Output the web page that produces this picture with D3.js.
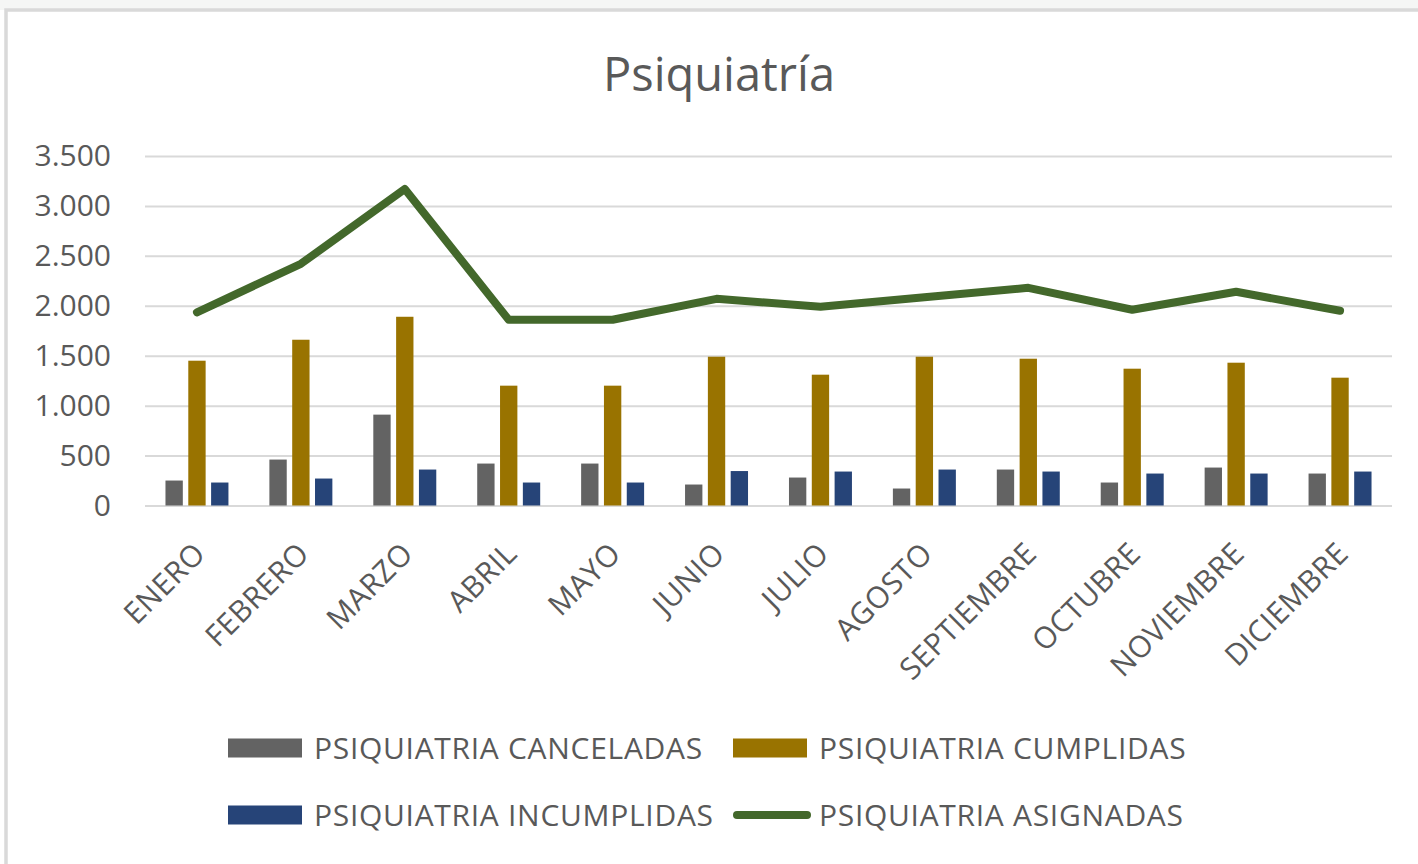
<!DOCTYPE html>
<html>
<head>
<meta charset="utf-8">
<script src="https://cdn.jsdelivr.net/npm/d3@7"></script>
<style>
  body { margin: 0; background: #fff; }
  svg { display: block; font-family: "Open Sans", sans-serif; }
</style>
</head>
<body>
<svg></svg>
<script>
// DATA
const months = ["ENERO", "FEBRERO", "MARZO", "ABRIL", "MAYO", "JUNIO", "JULIO", "AGOSTO", "SEPTIEMBRE", "OCTUBRE", "NOVIEMBRE", "DICIEMBRE"]
const canceladas = [250, 460, 910, 420, 420, 210, 280, 170, 360, 230, 380, 320]
const cumplidas = [1450, 1660, 1890, 1200, 1200, 1490, 1310, 1490, 1470, 1370, 1430, 1280]
const incumplidas = [230, 270, 360, 230, 230, 345, 340, 360, 340, 320, 320, 340]
const asignadas = [1935, 2420, 3170, 1860, 1860, 2070, 1990, 2085, 2180, 1960, 2140, 1950]
const yTicks = [0, 500, 1000, 1500, 2000, 2500, 3000, 3500]

const barSeries = [
  { name: "PSIQUIATRIA CANCELADAS", values: canceladas, color: "#636363" },
  { name: "PSIQUIATRIA CUMPLIDAS", values: cumplidas, color: "#997300" },
  { name: "PSIQUIATRIA INCUMPLIDAS", values: incumplidas, color: "#264478" }
]
const lineSeries = { name: "PSIQUIATRIA ASIGNADAS", values: asignadas, color: "#43682B" }

// SETUP
const W = 1418, H = 864
const svg = d3.select("svg").attr("width", W).attr("height", H)

// faint page background above the chart frame
svg.append("rect").attr("x", 0).attr("y", 0).attr("width", W).attr("height", 10).attr("fill", "#f5f6f5")
svg.append("rect")
  .attr("x", 6).attr("y", 10).attr("width", W + 10).attr("height", H)
  .attr("fill", "#fff").attr("stroke", "#d9d9d9").attr("stroke-width", 3.5)

svg.append("text")
  .attr("x", 719).attr("y", 91)
  .attr("text-anchor", "middle")
  .attr("font-size", 47)
  .attr("fill", "#595959")
  .text("Psiquiatría")

const x0 = d3.scaleBand()
  .domain(months)
  .range([145, 1392])

const gap = x0.bandwidth() * 0.197
const x1 = d3.scaleBand()
  .domain(barSeries.map(d => d.name))
  .range([gap, x0.bandwidth() - gap])
  .paddingInner(0.24)

const y = d3.scaleLinear()
  .domain([0, 3500])
  .range([505.5, 156])

// y axis with gridlines
const axisY = d3.axisLeft(y)
  .tickValues(yTicks)
  .tickSize(-(1392 - 145))
  .tickPadding(34)
  .tickFormat(d => d3.format(",")(d).replace(/,/g, "."))

const gY = svg.append("g")
  .attr("transform", "translate(145, 0)")
  .call(axisY)
gY.select(".domain").remove()
gY.selectAll(".tick line").attr("stroke", "#d9d9d9").attr("stroke-width", 2)
gY.selectAll(".tick text")
  .attr("font-size", 30)
  .attr("font-family", "Open Sans")
  .attr("fill", "#595959")

// x axis labels
const axisX = d3.axisBottom(x0).tickSize(0).tickPadding(0)
const gX = svg.append("g")
  .attr("transform", "translate(0, 505.5)")
  .call(axisX)
gX.select(".domain").remove()
gX.selectAll(".tick text")
  .attr("font-size", 30)
  .attr("font-family", "Open Sans")
  .attr("fill", "#595959")
  .attr("text-anchor", "end")
  .attr("letter-spacing", 0.4)
  .attr("dy", 0)
  .attr("y", 0)
  .attr("transform", "translate(10, 50) rotate(-45)")

// bars
const groups = svg.append("g")
  .selectAll("g.month")
  .data(months)
  .join("g")
  .attr("class", "month")
  .attr("transform", d => `translate(${x0(d)}, 0)`)

groups.selectAll("rect")
  .data((m, i) => barSeries.map(s => ({ name: s.name, color: s.color, value: s.values[i] })))
  .join("rect")
  .attr("x", d => x1(d.name))
  .attr("y", d => y(d.value))
  .attr("width", x1.bandwidth())
  .attr("height", d => y(0) - y(d.value))
  .attr("fill", d => d.color)

// line
const line = d3.line()
  .x((d, i) => x0(months[i]) + x0.bandwidth() / 2)
  .y(d => y(d))

svg.append("path")
  .datum(lineSeries.values)
  .attr("d", line)
  .attr("fill", "none")
  .attr("stroke", lineSeries.color)
  .attr("stroke-width", 8)
  .attr("stroke-linejoin", "round")
  .attr("stroke-linecap", "round")

// legend
const legendItems = [
  { s: barSeries[0], x: 228, y: 748, type: "rect" },
  { s: barSeries[1], x: 733, y: 748, type: "rect" },
  { s: barSeries[2], x: 228, y: 815, type: "rect" },
  { s: lineSeries, x: 733, y: 815, type: "line" }
]

const legend = svg.append("g")
  .selectAll("g.legend")
  .data(legendItems)
  .join("g")
  .attr("class", "legend")
  .attr("transform", d => `translate(${d.x}, ${d.y})`)

legend.filter(d => d.type === "rect")
  .append("rect")
  .attr("x", 0).attr("y", -9.5)
  .attr("width", 74).attr("height", 19)
  .attr("fill", d => d.s.color)

legend.filter(d => d.type === "line")
  .append("line")
  .attr("x1", 4).attr("x2", 74)
  .attr("y1", 0).attr("y2", 0)
  .attr("stroke", d => d.s.color)
  .attr("stroke-width", 8)
  .attr("stroke-linecap", "round")

legend.append("text")
  .attr("x", 86)
  .attr("y", 11)
  .attr("font-size", 30)
  .attr("letter-spacing", 0.7)
  .attr("fill", "#595959")
  .text(d => d.s.name)
</script>
</body>
</html>
